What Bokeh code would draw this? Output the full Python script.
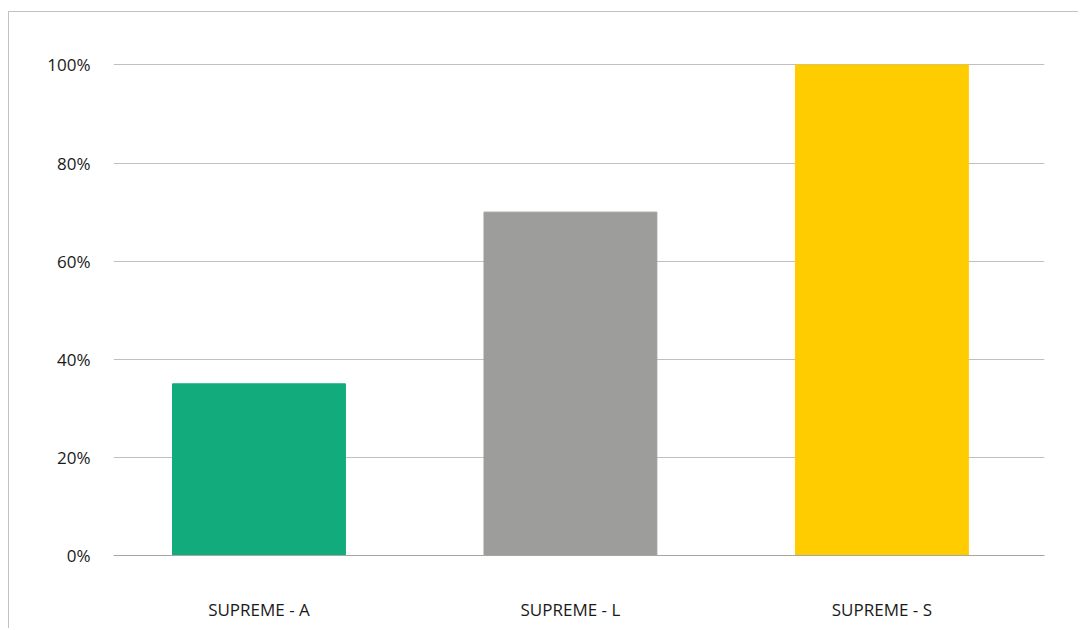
from bokeh.plotting import figure
from bokeh.models import Range1d, FixedTicker, ColumnDataSource
from bokeh.embed import file_html
from bokeh.resources import INLINE

categories = ["SUPREME - A", "SUPREME - L", "SUPREME - S"]
values = [35, 70, 100]
colors = ["#11ab7c", "#9d9d9b", "#ffcc00"]
y_ticks = [0, 20, 40, 60, 80, 100]

positions = list(range(len(categories)))
src = ColumnDataSource(dict(x=positions, top=values, color=colors, name=categories))

p = figure(width=1070, height=617, output_backend="svg", toolbar_location=None,
           x_range=Range1d(-0.467, 2.522), y_range=Range1d(0, 100.3),
           min_border_left=104, min_border_right=35, min_border_top=51, min_border_bottom=74)
p.styles = {"margin-top": "11px", "margin-left": "8px",
            "border-top": "1px solid #c3c3c3", "border-left": "1px solid #c3c3c3"}
p.outline_line_color = None
p.vbar(x="x", top="top", bottom=0, width=0.555, color="color", source=src)

p.xaxis.ticker = FixedTicker(ticks=positions)
p.xaxis.major_label_overrides = {i: c for i, c in zip(positions, categories)}
p.xaxis.axis_line_color = "#a6a6a6"
p.xaxis.major_tick_line_color = None
p.xaxis.minor_tick_line_color = None
p.xaxis.major_label_standoff = 36
p.yaxis.ticker = FixedTicker(ticks=y_ticks)
p.yaxis.major_label_overrides = {t: f"{t}%" for t in y_ticks}
p.yaxis.axis_line_color = None
p.yaxis.major_tick_line_color = None
p.yaxis.minor_tick_line_color = None
p.yaxis.major_label_standoff = 17
for ax in (p.xaxis, p.yaxis):
    ax.major_label_text_font = "Open Sans"
    ax.major_label_text_font_size = "17px"
    ax.major_label_text_color = "#1a1a1a"
p.xgrid.grid_line_color = None
p.ygrid.ticker = FixedTicker(ticks=y_ticks[1:])
p.ygrid.grid_line_color = "#c0c0c0"

open("out.html", "w").write(file_html(p, INLINE))
